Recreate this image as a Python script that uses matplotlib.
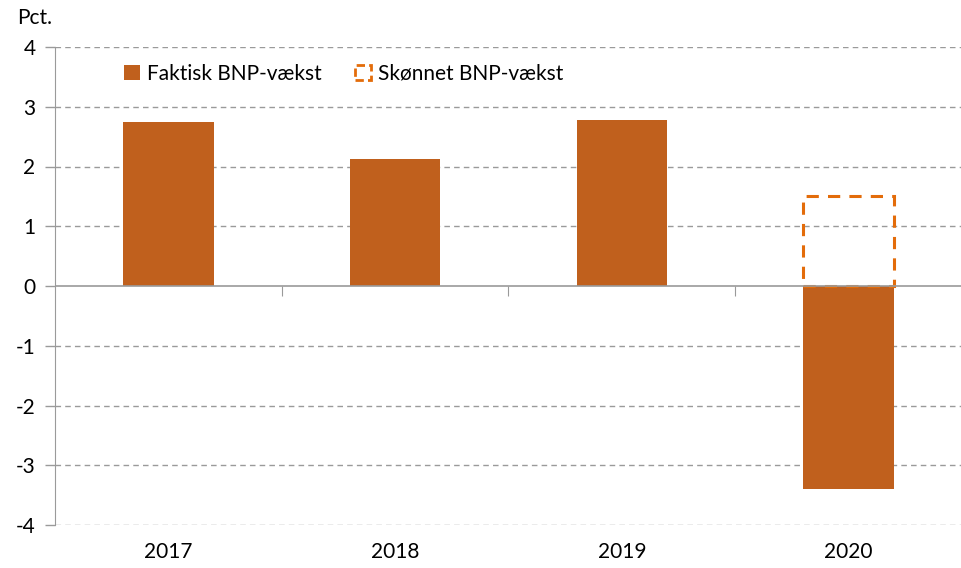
import matplotlib.pyplot as plt
from matplotlib.patches import Patch

years = ['2017', '2018', '2019', '2020']
faktisk = [2.74, 2.13, 2.78, -3.40]
skoennet_year = ['2020']
skoennet = [1.5]
yticks = [-4, -3, -2, -1, 0, 1, 2, 3, 4]

bar_color = '#C0601D'
est_color = '#E36C0A'
grid_color = '#9A9A9A'

plt.rcParams['font.family'] = ['Lato', 'DejaVu Sans']
plt.rcParams['font.size'] = 15

fig = plt.figure(figsize=(9.62, 5.68), dpi=100)
ax = fig.add_axes([55 / 962, 1 - 525 / 568, 907 / 962, (525 - 47) / 568])

x = list(range(len(years)))
ax.bar(x, faktisk, width=0.4, color=bar_color, zorder=3)
x_est = [years.index(y) for y in skoennet_year]
ax.bar(x_est, skoennet, width=0.4, fill=False, edgecolor=est_color,
       linewidth=2.2, linestyle=(0, (4, 3)), zorder=4)

ax.set_xlim(-0.5, 3.5)
ax.set_ylim(-4, 4)
ax.set_yticks(yticks)
ax.set_yticklabels([str(v) for v in yticks])
ax.set_xticks(x)
ax.set_xticklabels(years)
ax.tick_params(axis='x', length=0, pad=12)
ax.tick_params(axis='y', length=7, color=grid_color, width=1, pad=7)

for s in ['top', 'right', 'bottom']:
    ax.spines[s].set_visible(False)
ax.spines['left'].set_color(grid_color)

for v in yticks:
    if v != 0:
        ax.axhline(v, color=grid_color, lw=1, ls=(0, (4, 3)), zorder=1)
ax.axhline(0, color=grid_color, lw=1.2, zorder=5)

# small ticks on the zero line between categories
sec = ax.secondary_xaxis(0.5)
sec.set_xticks([0.5, 1.5, 2.5])
sec.set_xticklabels([])
sec.tick_params(length=7, color=grid_color, direction='in')
sec.spines['bottom'].set_visible(False)
sec.spines['top'].set_visible(False)

handles = [Patch(facecolor=bar_color, edgecolor='none'),
           Patch(facecolor='none', edgecolor=est_color, linestyle=(0, (3, 1.5)), linewidth=2)]
leg = ax.legend(handles, ['Faktisk BNP-vækst', 'Skønnet BNP-vækst'], ncol=2,
                loc='upper left', bbox_to_anchor=(0.058, 1.0), frameon=True,
                fancybox=False, edgecolor='none', framealpha=1,
                handlelength=0.75, handleheight=0.75, handletextpad=0.35,
                columnspacing=1.6, fontsize=15, borderpad=0.3)
leg.set_zorder(6)

fig.text(17 / 962, 1 - 18 / 568, 'Pct.', ha='left', va='center', fontsize=15)

fig.savefig('out.png', dpi=100)
